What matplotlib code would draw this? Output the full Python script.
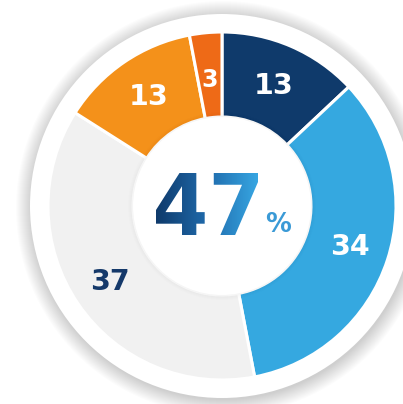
import numpy as np
import matplotlib
matplotlib.use("Agg")
import matplotlib.pyplot as plt
from matplotlib.patches import Circle, PathPatch
from matplotlib.textpath import TextPath
from matplotlib.font_manager import FontProperties
from matplotlib.transforms import Affine2D
from matplotlib.colors import LinearSegmentedColormap

# data
categories = ["A", "B", "C", "D", "E"]
values = [13, 34, 37, 13, 3]
colors = ["#0f3a6b", "#35a8e0", "#f1f1f1", "#f4911a", "#ee6a17"]
label_colors = ["white", "white", "#15396a", "white", "white"]
label_sizes = [20.5, 20.5, 20.5, 20.5, 17]
label_radius = [0.75, 0.77, 0.78, 0.755, 0.73]
center_value = "47"
center_unit = "%"

W, H = 403, 404
fig = plt.figure(figsize=(W / 100, H / 100), dpi=100)
ax = fig.add_axes([0, 0, 1, 1])

cx, cy = 222, 404 - 206
R_out, R_in, R_disc = 174, 89, 192

# shadow of outer disc
for i in range(16):
    ax.add_patch(Circle((cx + 1, cy - 2), R_disc + 15 - i, color="black",
                        alpha=0.011, lw=0, zorder=0))
ax.add_patch(Circle((cx, cy), R_disc, color="white", lw=0, zorder=1))

wedges, texts, autotexts = ax.pie(
    values, colors=colors, startangle=90, counterclock=False,
    radius=R_out, center=(cx, cy),
    wedgeprops=dict(width=R_out - R_in, edgecolor="white", linewidth=2.2),
    autopct=lambda p: f"{p:.0f}", pctdistance=0.76,
    textprops=dict(fontfamily="DejaVu Sans", fontweight="bold"))
for w in wedges:
    w.set_zorder(2)
for w, t, c, s, r in zip(wedges, autotexts, label_colors, label_sizes, label_radius):
    t.set_color(c)
    t.set_fontsize(s)
    t.set_zorder(5)
    mid = np.deg2rad((w.theta1 + w.theta2) / 2)
    t.set_position((cx + r * R_out * np.cos(mid), cy + r * R_out * np.sin(mid)))

# inner white circle with soft shadow
for i in range(6):
    ax.add_patch(Circle((cx, cy), R_in + 5 - i, color="black", alpha=0.008,
                        lw=0, zorder=3))
ax.add_patch(Circle((cx, cy), R_in, color="white", lw=0, zorder=3))

# gradient center number
fp = FontProperties(family="DejaVu Sans", weight="bold")
tp = TextPath((0, 0), center_value, size=100, prop=fp)
bb = tp.get_extents()
x0, x1, y0, y1 = 156, 258, 404 - 235, 404 - 173
sx = (x1 - x0) / bb.width
sy = (y1 - y0) / bb.height
tr = Affine2D().translate(-bb.x0, -bb.y0).scale(sx, sy).translate(x0, y0)
path = tr.transform_path(tp)
patch = PathPatch(path, facecolor="none", edgecolor="none", zorder=6)
ax.add_patch(patch)
cmap = LinearSegmentedColormap.from_list("g", ["#0f3a6b", "#1f6aab", "#37a6e2"])
grad = np.linspace(0, 1, 256).reshape(1, -1)
im = ax.imshow(grad, cmap=cmap, extent=(x0, x1, y0, y1), aspect="auto",
               zorder=6, interpolation="bilinear")
im.set_clip_path(patch)

ax.text(278.5, 404 - 225, center_unit, fontsize=18.5, fontweight="bold",
        color="#3a9ad6", ha="center", va="center", fontfamily="DejaVu Sans",
        zorder=7)

ax.set_xlim(0, W)
ax.set_ylim(0, H)
ax.set_aspect("auto")
ax.axis("off")
fig.savefig("out.png", dpi=100, facecolor="white")
